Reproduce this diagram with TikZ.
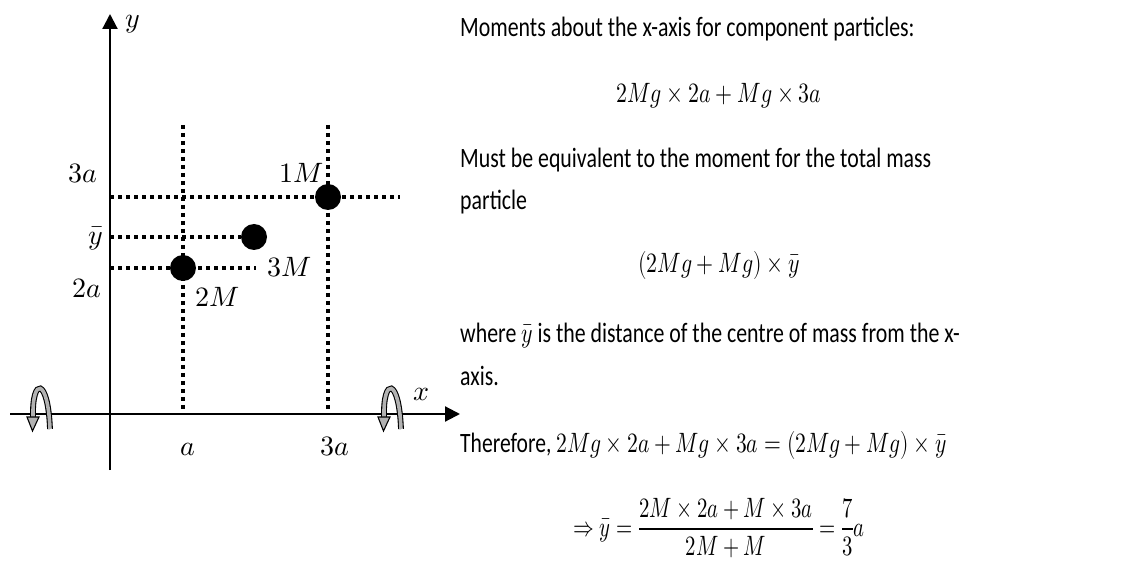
\documentclass[tikz,border=0pt]{standalone}
\usepackage{amsmath}
\usepackage{graphicx}
\usepackage{fontspec}
\usepackage{unicode-math}
\setmainfont{Carlito}
\setmathfont{Latin Modern Math}
\usetikzlibrary{calc, positioning}
\usetikzlibrary{arrows.meta}

% the working on the right is set narrow
\newcommand{\squeeze}[2][0.78]{\scalebox{#1}[1]{#2}}

\tikzset{
    axis/.style={line width=2.2pt, -{Triangle[length=15pt, width=15pt]}},
    guide/.style={line width=4pt, dash pattern=on 4pt off 4pt},
    mass/.style={circle, fill, inner sep=0pt, minimum size=26pt},
    lbl/.style={inner sep=0pt, anchor=base},
    txt/.style={inner sep=0pt, anchor=base west},
    eqn/.style={inner sep=0pt, anchor=base},
    pics/curl/.style={code={
        \draw[double=gray!60, double distance=3.6pt, line width=1.1pt]
            (9,15) .. controls (7,-37) and (-9,-37) .. (-8,3);
        \filldraw[fill=gray!60, line width=1.1pt, line join=miter]
            (-14,3) -- (-2,3) -- (-8.5,17) -- cycle;
    }}
}

\begin{document}
\begin{tikzpicture}[x=1pt, y=-1pt, font=\fontsize{28}{34}\selectfont]
    \useasboundingbox (0,0) rectangle (1144,561);

    % axes
    \coordinate (O) at (110,414);
    \coordinate (ybot) at (110,470);
    \coordinate (ytop) at (110,14);
    \coordinate (xleft) at (10,414);
    \coordinate (xright) at (460,414);
    \draw[axis] (ybot) -- (ytop);
    \draw[axis] (xleft) -- (xright);
    \node[lbl] (ylab) at (133,28) {$y$};
    \node[lbl] (xlab) at (422,400) {$x$};

    \pic at (41,414) {curl};
    \pic at (392,414) {curl};

    % particles
    \node[mass] (m1) at (328,197) {};
    \node[mass] (m3) at (254,237) {};
    \node[mass] (m2) at (183,268) {};

    \coordinate (v1top) at (183,125);
    \coordinate (v1bot) at (183,410);
    \coordinate (v2top) at (328,125);
    \coordinate (v2bot) at (328,410);
    \coordinate (h1end) at (400,197);
    \coordinate (h3end) at (256,268);

    \draw[guide] (v1top) -- (v1bot);
    \draw[guide] (v2top) -- (v2bot);
    \draw[guide] (m1 -| O) -- (h1end);
    \draw[guide] (m3 -| O) -- (m3);
    \draw[guide] (m2 -| O) -- (h3end);

    \node[lbl] (l3a) at (83,183) {$3a$};
    \node[lbl] (lyb) at (96,245) {$\bar{y}$};
    \node[lbl] (l2a) at (87,298) {$2a$};
    \node[lbl] (l1M) at (302,183) {$1M$};
    \node[lbl] (l3M) at (290,277) {$3M$};
    \node[lbl] (l2M) at (218,307) {$2M$};
    \node[lbl] (la) at (188,455) {$a$};
    \node[lbl] (lxa) at (335,455) {$3a$};

    % working
    \node[txt] (t1) at (460,37) {\squeeze{Moments about the x-axis for component particles:}};
    \node[eqn] (e1) at (719,103) {\squeeze{$2Mg \times 2a + Mg \times 3a$}};
    \node[txt] (t2) at (460,168) {\squeeze{Must be equivalent to the moment for the total mass}};
    \node[txt] (t3) at (460,210) {\squeeze{particle}};
    \node[eqn] (e2) at (719,273) {\squeeze{$(2Mg + Mg) \times \bar{y}$}};
    \node[txt] (t4) at (460,343) {\squeeze{where $\bar{y}$ is the distance of the centre of mass from the x-}};
    \node[txt] (t5) at (460,386) {\squeeze{axis.}};
    \node[txt] (t6) at (460,453) {\squeeze[0.77]{Therefore, $2Mg \times 2a + Mg \times 3a = (2Mg + Mg) \times \bar{y}$}};
    \node[eqn] (e3) at (719,536) {\squeeze[0.74]{$\displaystyle \Rightarrow \bar{y} = \frac{2M \times 2a + M \times 3a}{2M + M} = \frac{7}{3}a$}};
\end{tikzpicture}
\end{document}
